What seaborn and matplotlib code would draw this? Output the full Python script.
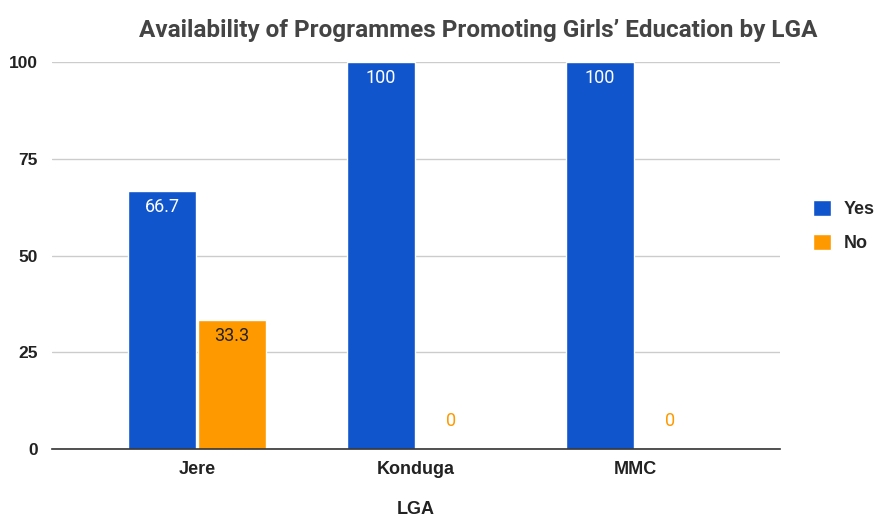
import matplotlib
matplotlib.use("Agg")
import matplotlib.pyplot as plt
import seaborn as sns
import pandas as pd

categories = ["Jere", "Konduga", "MMC"]
yes_values = [66.7, 100, 100]
no_values = [33.3, 0, 0]
series_names = ["Yes", "No"]
yticks = [0, 25, 50, 75, 100]

df = pd.DataFrame({
    "LGA": categories * 2,
    "Response": [series_names[0]] * 3 + [series_names[1]] * 3,
    "Value": yes_values + no_values,
})

sns.set_theme(style="white")
plt.rcParams["font.family"] = ["Liberation Sans", "DejaVu Sans"]

fig = plt.figure(figsize=(8.78, 5.19), dpi=100)
ax = fig.add_axes([52 / 878, 1 - 449 / 519, (780 - 52) / 878, (449 - 62) / 519])

palette = {"Yes": "#1155cc", "No": "#ff9900"}
sns.barplot(data=df, x="LGA", y="Value", hue="Response", palette=palette,
            order=categories, hue_order=series_names, width=0.64, gap=0.03,
            saturation=1, ax=ax, legend=True)

ax.set_xlim(-0.662, 2.662)
ax.set_ylim(0, 100)
ax.set_yticks(yticks)
ax.set_yticklabels([str(t) for t in yticks], fontsize=12.5, fontweight="bold", color="#222222")
ax.set_xticks(range(len(categories)))
ax.set_xticklabels(categories, fontsize=13, fontweight="bold", color="#222222")
ax.tick_params(axis="both", length=0)
ax.tick_params(axis="y", pad=10)
ax.tick_params(axis="x", pad=9)
ax.yaxis.grid(True, color="#cccccc", linewidth=1)
ax.set_axisbelow(True)
for s in ["left", "right", "top"]:
    ax.spines[s].set_visible(False)
ax.spines["bottom"].set_color("#333333")
ax.spines["bottom"].set_linewidth(1.2)
ax.set_ylabel("")
ax.set_xlabel("LGA", fontsize=13, fontweight="bold", color="#222222", labelpad=16)

# bar labels
cont_yes, cont_no = ax.containers[0], ax.containers[1]
for rect, v in zip(cont_yes, yes_values):
    x = rect.get_x() + rect.get_width() / 2
    ax.annotate(f"{v:g}", (x, rect.get_height()), xytext=(0, -5),
                textcoords="offset points", ha="center", va="top",
                color="white", fontsize=13, family="Roboto")
for rect, v in zip(cont_no, no_values):
    x = rect.get_x() + rect.get_width() / 2
    if v > 0:
        ax.annotate(f"{v:g}", (x, rect.get_height()), xytext=(0, -5),
                    textcoords="offset points", ha="center", va="top",
                    color="#222222", fontsize=13, family="Roboto")
    else:
        ax.annotate(f"{v:g}", (x, 0), xytext=(0, 20),
                    textcoords="offset points", ha="center", va="center",
                    color="#ff9900", fontsize=13, family="Roboto")

# legend
leg = ax.get_legend()
handles = leg.legend_handles
leg.remove()
fig.legend(handles, series_names, loc="center left",
           bbox_to_anchor=(813 / 878, 1 - 226 / 519), frameon=False,
           borderpad=0, borderaxespad=0,
           prop={"weight": "bold", "size": 13}, handlelength=1.0,
           handleheight=1.0, handletextpad=0.7, labelspacing=0.9)

fig.text(478 / 878, 1 - 30 / 519,
         "Availability of Programmes Promoting Girls\u2019 Education by LGA",
         ha="center", va="center", fontsize=17.5, fontweight="bold",
         color="#444444", family="Roboto")

fig.savefig("out.png", dpi=100)
